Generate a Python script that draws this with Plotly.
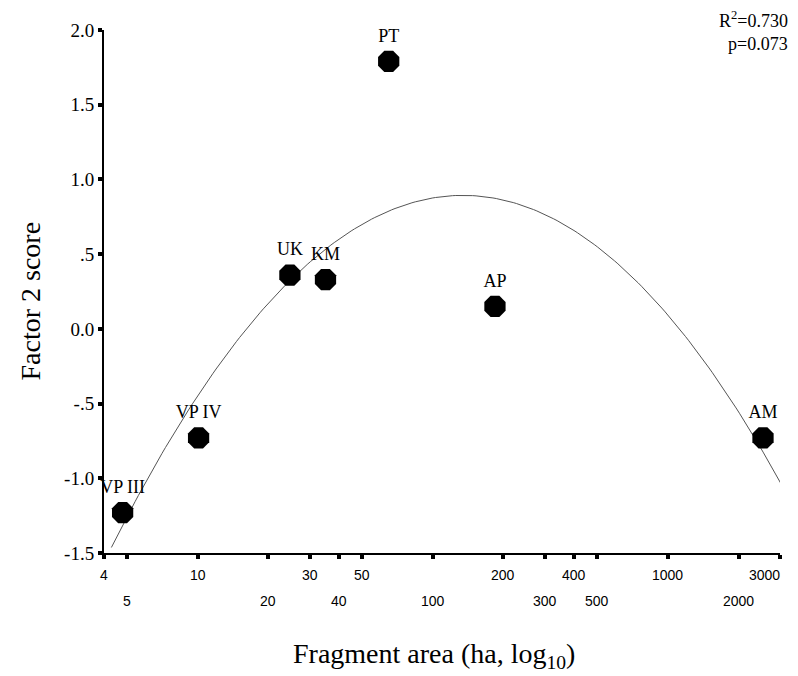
import numpy as np
import plotly.graph_objects as go

# Data
sites = ["VP III", "VP IV", "UK", "KM", "PT", "AP", "AM"]
area_ha = [4.8, 10.1, 24.7, 35.0, 65.0, 184.0, 2540.0]
factor2 = [-1.23, -0.73, 0.36, 0.33, 1.79, 0.15, -0.73]

x_ticks_top = [4, 10, 30, 50, 200, 400, 1000, 3000]
x_ticks_bottom = [5, 20, 40, 100, 300, 500, 2000]
y_tickvals = [-1.5, -1.0, -0.5, 0.0, 0.5, 1.0, 1.5, 2.0]
y_ticktext = ["-1.5", "-1.0", "-.5", "0.0", ".5", "1.0", "1.5", "2.0"]

# Quadratic fit in log10(area)
u = np.log10(area_ha)
coef = np.polyfit(u, factor2, 2)
u_line = np.linspace(np.log10(4.3), np.log10(3100), 200)
y_line = np.polyval(coef, u_line)

SERIF = "Liberation Serif"
TICKFONT = dict(family="Liberation Sans Narrow, Liberation Sans", size=14, color="black")

fig = go.Figure()
fig.add_trace(go.Scatter(
    x=10 ** u_line, y=y_line, mode="lines",
    line=dict(color="#555555", width=1), hoverinfo="skip", showlegend=False))
fig.add_trace(go.Scatter(
    x=area_ha, y=factor2, mode="markers+text", text=sites,
    textposition="top center", cliponaxis=False,
    textfont=dict(family=SERIF, size=18, color="black"),
    marker=dict(symbol="octagon", size=23, color="black"),
    showlegend=False))

annotations = []
for i, v in enumerate(x_ticks_top):
    last = i == len(x_ticks_top) - 1
    annotations.append(dict(x=np.log10(v), y=0, xref="x", yref="paper",
                            text=str(v), showarrow=False, yanchor="middle",
                            xanchor="right" if last else "center",
                            xshift=2 if last else 0,
                            yshift=-22, font=TICKFONT))
for v in x_ticks_bottom:
    annotations.append(dict(x=np.log10(v), y=0, xref="x", yref="paper",
                            text=str(v), showarrow=False, yanchor="middle",
                            yshift=-48, font=TICKFONT))
annotations.append(dict(x=1.0, y=1.0, xref="paper", yref="paper",
                        text="R<sup>2</sup>=0.730", showarrow=False,
                        xanchor="right", yanchor="middle", xshift=10, yshift=11,
                        font=dict(family=SERIF, size=18, color="black")))
annotations.append(dict(x=1.0, y=1.0, xref="paper", yref="paper",
                        text="p=0.073", showarrow=False,
                        xanchor="right", yanchor="middle", xshift=10, yshift=-14,
                        font=dict(family=SERIF, size=18, color="black")))
annotations.append(dict(x=0.5, y=0, xref="paper", yref="paper",
                        text="Fragment area (ha, log<sub>10</sub>)", showarrow=False,
                        xanchor="center", yanchor="middle", yshift=-102, xshift=-8,
                        font=dict(family=SERIF, size=28, color="black")))
annotations.append(dict(x=0, y=0.5, xref="paper", yref="paper",
                        text="Factor 2 score", showarrow=False, textangle=-90,
                        xanchor="center", yanchor="middle", xshift=-74, yshift=-10,
                        font=dict(family=SERIF, size=28, color="black")))

# page body has an 8px margin, so the figure is 8px smaller than the window
fig.update_layout(
    width=790, height=668,
    margin=dict(l=96, r=18, t=22, b=123),
    paper_bgcolor="white", plot_bgcolor="white",
    annotations=annotations,
    font=dict(family=SERIF, color="black"),
)
fig.update_xaxes(
    type="log", range=[np.log10(4), np.log10(3000)],
    tickvals=sorted(x_ticks_top + x_ticks_bottom), showticklabels=False,
    ticks="outside", ticklen=4, tickwidth=4, tickcolor="black",
    showline=True, linecolor="black", linewidth=2,
    showgrid=False, zeroline=False,
)
fig.update_yaxes(
    range=[-1.5, 2.0], tickvals=y_tickvals, ticktext=y_ticktext,
    ticks="outside", ticklen=4, tickwidth=4, tickcolor="black",
    tickfont=dict(family=SERIF, size=19, color="black"),
    showline=True, linecolor="black", linewidth=2,
    showgrid=False, zeroline=False,
)

fig.write_html("out.html")
